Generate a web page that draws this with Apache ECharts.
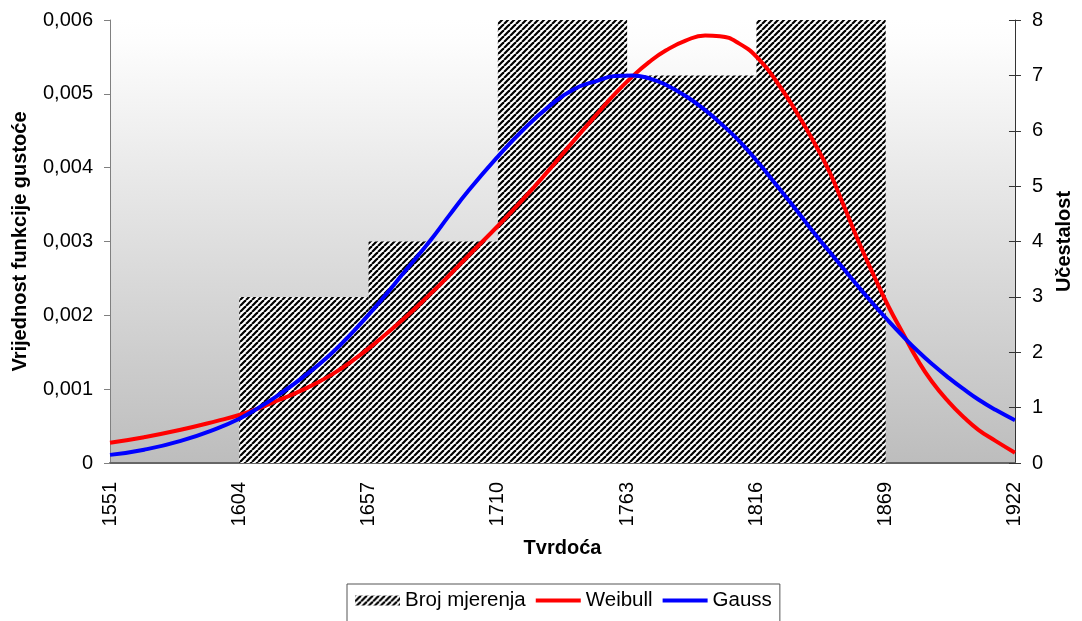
<!DOCTYPE html>
<html>
<head>
<meta charset="utf-8">
<script src="https://cdn.jsdelivr.net/npm/echarts@6/dist/echarts.min.js"></script>
<style>
html,body{margin:0;padding:0;background:#fff;}
#chart{width:1082px;height:621px;}
</style>
</head>
<body>
<div id="chart"></div>
<script>
// ---- data ----
const xTickLabels = ['1551','1604','1657','1710','1763','1816','1869','1922'];
const binEdges = [1551, 1604, 1657, 1710, 1763, 1816, 1869, 1922];
const counts = [0, 3, 4, 8, 7, 8, 0];
const hardness = [1551,1565,1580,1595,1604,1612,1620,1630,1641,1651,1661,1672,1682,1690,1698,1710,1720,1731,1741,1751,1758,1765,1772,1779,1787,1795,1801,1809,1817,1825,1833,1840,1846,1852,1858,1864,1870,1876,1882,1888,1895,1901,1907,1914,1922];
const weibull  = [0.000275,0.00035,0.00045,0.00057,0.00065,0.00074,0.00085,0.00099,0.00118,0.0014,0.00166,0.00197,0.00228,0.00254,0.00281,0.00321,0.00356,0.00397,0.00436,0.00474,0.005,0.00523,0.00543,0.00559,0.00572,0.00579,0.00578,0.00568,0.00547,0.00513,0.00472,0.00432,0.00394,0.00347,0.00299,0.00255,0.00213,0.00176,0.0014,0.0011,0.00082,0.00062,0.00045,0.0003,0.00014];
const gauss    = [0.00011,0.00018,0.0003,0.00047,0.0006,0.00075,0.00092,0.00116,0.00146,0.00179,0.00216,0.0026,0.003,0.00335,0.00369,0.00415,0.0045,0.00483,0.00506,0.00518,0.00524,0.00525,0.00521,0.00512,0.00497,0.00478,0.00461,0.00436,0.00406,0.00373,0.0034,0.0031,0.00286,0.00262,0.00238,0.00215,0.00193,0.00172,0.00152,0.00134,0.00115,0.001,0.00086,0.00072,0.00058];
const leftTicks = { min: 0, max: 0.006, step: 0.001 };
const rightTicks = { min: 0, max: 8, step: 1 };

// ---- hatch pattern ----
function makeHatch() {
  const s = 6;
  const c = document.createElement('canvas');
  c.width = s; c.height = s;
  const g = c.getContext('2d');
  g.fillStyle = '#ffffff';
  g.fillRect(0, 0, s, s);
  g.strokeStyle = '#000000';
  g.lineWidth = 2.2;
  for (let k = -1; k <= 1; k++) {
    g.beginPath();
    g.moveTo(k * s, s);
    g.lineTo(k * s + s, 0);
    g.stroke();
  }
  return c;
}
const hatch = { image: makeHatch(), repeat: 'repeat' };

const font = "'Liberation Sans', Arial, sans-serif";
const FS = 20;
const chart = echarts.init(document.getElementById('chart'), null, { renderer: 'canvas' });

const histData = counts.map((c, i) => [binEdges[i], binEdges[i + 1], c]);
const lineIcon = 'path://M0,0H46V4H0Z';

chart.setOption({
  animation: false,
  textStyle: { fontFamily: font },
  grid: {
    left: 110, right: 63, top: 20, bottom: 158,
    show: true, borderWidth: 0,
    backgroundColor: new echarts.graphic.LinearGradient(0, 0, 0, 1, [
      { offset: 0, color: '#ffffff' },
      { offset: 0.05, color: '#fdfdfd' },
      { offset: 1, color: '#bdbdbd' }
    ])
  },
  legend: {
    left: 347, top: 584,
    padding: [6, 8, 14, 8],
    borderColor: '#555', borderWidth: 1,
    itemGap: 10, itemWidth: 45, itemHeight: 10,
    textStyle: { fontFamily: font, fontSize: 20.5, color: '#000' },
    data: [
      { name: 'Broj mjerenja', icon: 'rect', itemStyle: { color: hatch } },
      { name: 'Weibull', icon: lineIcon, itemStyle: { color: '#ff0000' } },
      { name: 'Gauss', icon: lineIcon, itemStyle: { color: '#0000ff' } }
    ]
  },
  xAxis: [
    {
      type: 'category', data: xTickLabels, boundaryGap: false,
      name: 'Tvrdoća', nameLocation: 'middle', nameGap: 75,
      nameTextStyle: { fontFamily: font, fontSize: FS, fontWeight: 'bold', color: '#000' },
      axisLine: { lineStyle: { color: '#666', width: 2 } },
      axisTick: { show: false },
      axisLabel: { rotate: 90, fontSize: FS, color: '#000', margin: 19, fontFamily: font },
      splitLine: { show: false }
    },
    { type: 'value', min: binEdges[0], max: binEdges[binEdges.length - 1], show: false }
  ],
  yAxis: [
    {
      type: 'value', min: leftTicks.min, max: leftTicks.max, interval: leftTicks.step,
      position: 'left',
      name: 'Vrijednost funkcije gustoće', nameLocation: 'middle', nameGap: 80,
      nameTextStyle: { fontFamily: font, fontSize: FS, fontWeight: 'bold', color: '#000' },
      axisLine: { show: true, lineStyle: { color: '#808080', width: 1 } },
      axisTick: { show: true, length: 6, lineStyle: { color: '#808080' } },
      axisLabel: {
        fontSize: FS, color: '#000', margin: 17, fontFamily: font,
        formatter: v => v === 0 ? '0' : v.toFixed(3).replace('.', ',')
      },
      splitLine: { show: false }
    },
    {
      type: 'value', min: rightTicks.min, max: rightTicks.max, interval: rightTicks.step,
      position: 'right',
      name: 'Učestalost', nameLocation: 'middle', nameGap: 39, nameRotate: 90,
      nameTextStyle: { fontFamily: font, fontSize: FS, fontWeight: 'bold', color: '#000' },
      axisLine: { show: true, lineStyle: { color: '#333', width: 1 } },
      axisTick: { show: true, length: 6, lineStyle: { color: '#333' } },
      axisLabel: { fontSize: FS, color: '#000', margin: 17, fontFamily: font },
      splitLine: { show: false }
    },
    {
      type: 'value', min: rightTicks.min, max: rightTicks.max, interval: rightTicks.step,
      position: 'right',
      axisLine: { show: false },
      axisTick: { show: true, inside: true, length: 6, lineStyle: { color: '#333' } },
      axisLabel: { show: false },
      splitLine: { show: false }
    }
  ],
  series: [
    {
      name: 'Broj mjerenja', type: 'custom',
      xAxisIndex: 1, yAxisIndex: 1,
      itemStyle: { color: hatch },
      encode: { x: [0, 1], y: 2 },
      data: histData,
      renderItem: function (params, api) {
        const p0 = api.coord([api.value(0), api.value(2)]);
        const p1 = api.coord([api.value(1), 0]);
        return {
          type: 'rect',
          shape: { x: p0[0], y: p0[1], width: p1[0] - p0[0], height: p1[1] - p0[1] },
          style: { fill: hatch }
        };
      },
      z: 1
    },
    {
      name: 'Weibull', type: 'line', xAxisIndex: 1, yAxisIndex: 0,
      data: hardness.map((h, i) => [h, weibull[i]]),
      smooth: 0.5, symbol: 'none',
      lineStyle: { color: '#ff0000', width: 4 },
      itemStyle: { color: '#ff0000' },
      z: 3
    },
    {
      name: 'Gauss', type: 'line', xAxisIndex: 1, yAxisIndex: 0,
      data: hardness.map((h, i) => [h, gauss[i]]),
      smooth: 0.5, symbol: 'none',
      lineStyle: { color: '#0000ff', width: 4 },
      itemStyle: { color: '#0000ff' },
      z: 3
    }
  ]
});
</script>
</body>
</html>
